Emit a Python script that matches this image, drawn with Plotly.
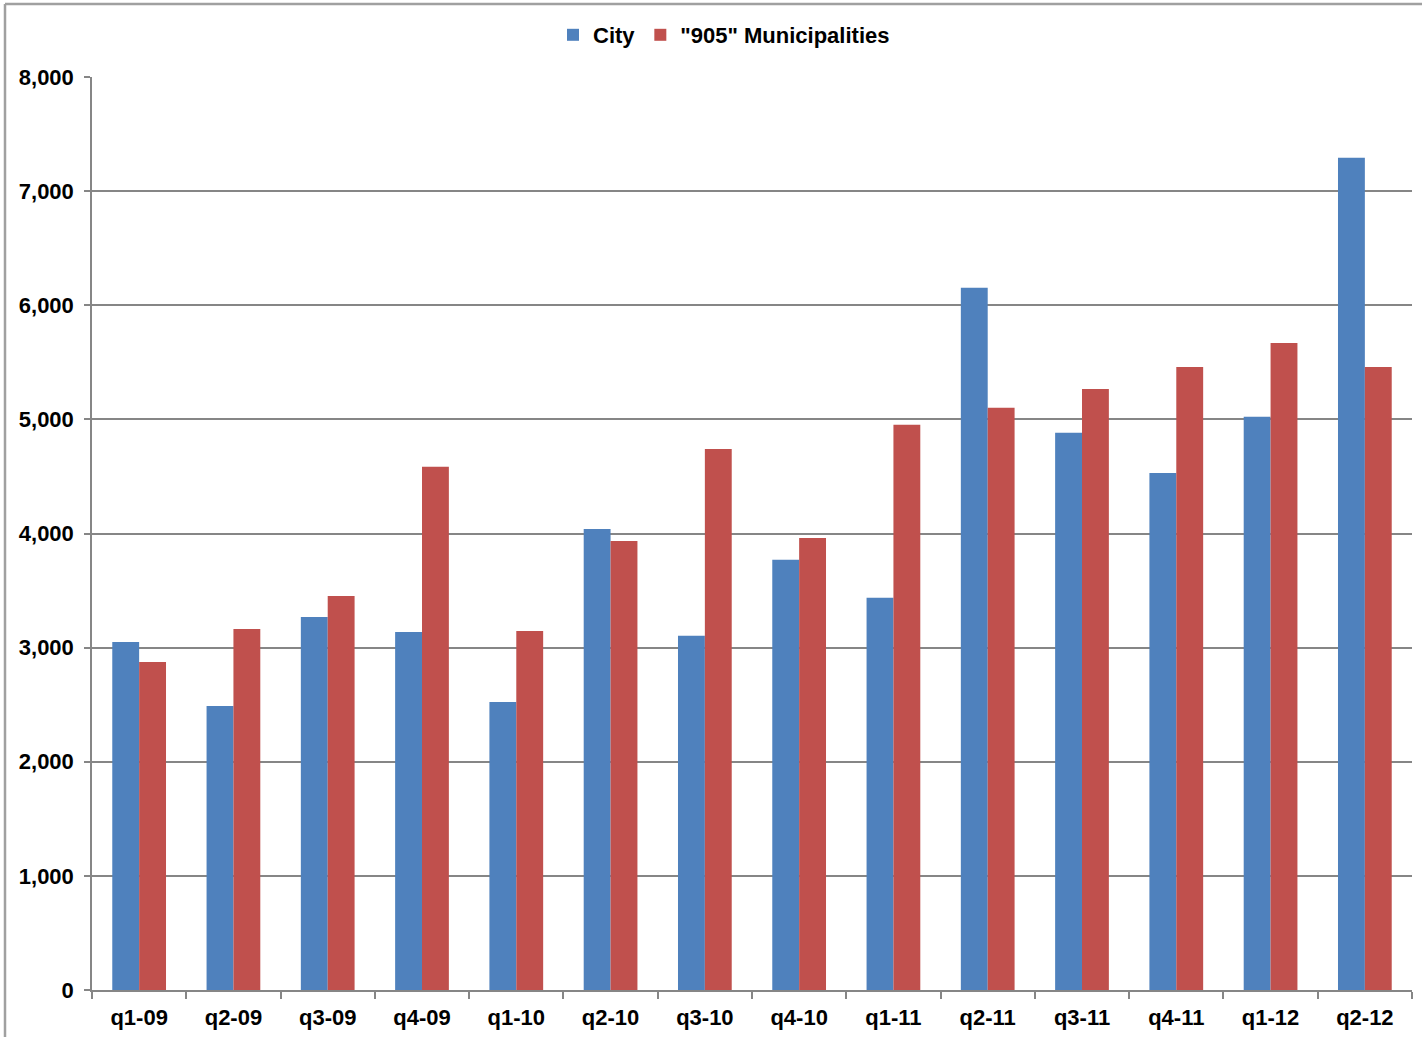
import plotly.graph_objects as go

categories = ["q1-09", "q2-09", "q3-09", "q4-09", "q1-10", "q2-10", "q3-10",
              "q4-10", "q1-11", "q2-11", "q3-11", "q4-11", "q1-12", "q2-12"]
city = [3050, 2489, 3269, 3138, 2524, 4040, 3103, 3769, 3436, 6153, 4882, 4531, 5022, 7292]
muni905 = [2875, 3164, 3453, 4584, 3146, 3935, 4741, 3961, 4952, 5101, 5267, 5460, 5670, 5460]
y_ticks = [0, 1000, 2000, 3000, 4000, 5000, 6000, 7000, 8000]
y_tick_labels = ["0", "1,000", "2,000", "3,000", "4,000", "5,000", "6,000", "7,000", "8,000"]

W, H = 1422, 1037
L, R, T, B = 92, 10, 77, 47
pw, ph = W - L - R, H - T - B

fig = go.Figure()
fig.add_trace(go.Bar(name="City", x=categories, y=city, marker_color="#4F81BD",
                     marker_line_width=0))
fig.add_trace(go.Bar(name='"905" Municipalities', x=categories, y=muni905,
                     marker_color="#C0504D", marker_line_width=0))

font_family = "Liberation Sans, Arial, sans-serif"
fs = 22
fig.update_layout(
    width=W, height=H,
    margin=dict(l=L, r=R, t=T, b=B),
    paper_bgcolor="white", plot_bgcolor="white",
    barmode="group", bargap=0.43, bargroupgap=0,
    font=dict(family=font_family, size=fs, color="black"),
    showlegend=True,
    legend=dict(orientation="h", x=(724 - L) / pw, xanchor="center",
                y=(H - B - 35) / ph, yanchor="middle",
                font=dict(family=font_family, size=fs, color="black", weight="bold"),
                itemwidth=30, tracegroupgap=0, bgcolor="rgba(0,0,0,0)"),
    xaxis=dict(type="category", showgrid=False, showline=True, linecolor="#868686", linewidth=1.5,
               ticks="outside", tickson="boundaries", ticklen=7, tickcolor="#868686", tickwidth=1.5,
               tickfont=dict(family=font_family, size=fs, color="black", weight="bold"),
               ticklabelstandoff=7, automargin=False,
               range=[-0.5, len(categories) - 0.5]),
    yaxis=dict(range=[0, 8000], tickvals=y_ticks, ticktext=y_tick_labels,
               showgrid=True, gridcolor="#868686", gridwidth=1.5,
               showline=True, linecolor="#868686", linewidth=1.5,
               ticks="outside", ticklen=6, tickcolor="#868686", tickwidth=1.5,
               tickfont=dict(family=font_family, size=fs, color="black", weight="bold"),
               ticklabelstandoff=6, automargin=False,
               zeroline=False),
)

# outer chart border (left and top edges visible)
bx0 = (5 - L) / pw
by1 = (H - B - 4) / ph
fig.add_shape(type="line", xref="paper", yref="paper", x0=bx0, x1=bx0, y0=-0.2, y1=by1,
              line=dict(color="#A0A0A0", width=2.5))
fig.add_shape(type="line", xref="paper", yref="paper", x0=bx0, x1=1.2, y0=by1, y1=by1,
              line=dict(color="#A0A0A0", width=2.5))

fig.write_html("out.html", config={"displayModeBar": False},
               post_script="document.body.style.margin='0';")
